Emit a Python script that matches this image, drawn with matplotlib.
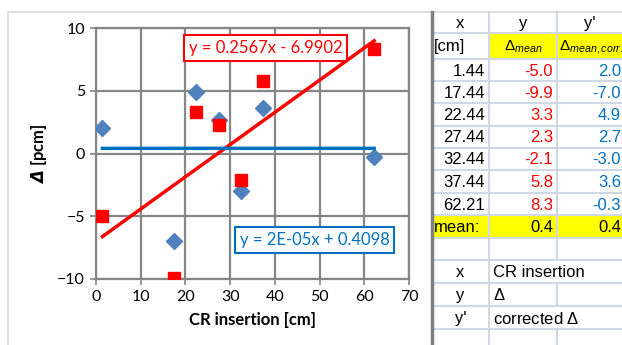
import numpy as np
import matplotlib.pyplot as plt
from matplotlib.lines import Line2D
from matplotlib.patches import Rectangle

x_cm = [1.44, 17.44, 22.44, 27.44, 32.44, 37.44, 62.21]
d_mean = [-5.0, -9.9, 3.3, 2.3, -2.1, 5.8, 8.3]
d_corr = [2.0, -7.0, 4.9, 2.7, -3.0, 3.6, -0.3]
mean_vals = [0.4, 0.4]

# lineas de tendencia (Excel)
fit_red = (0.2567, -6.9902)
fit_blue = (2e-05, 0.4098)
lbl_red = "y = 0.2567x - 6.9902"
lbl_blue = "y = 2E-05x + 0.4098"

xticks = [0, 10, 20, 30, 40, 50, 60, 70]
yticks = [-10, -5, 0, 5, 10]

RED = '#FF0000'
BLUE_PT = '#4F81BD'
BLUE_LN = '#0070C0'
GRID = '#868686'
CELL = '#D0D7E5'

plt.rcParams['mathtext.fontset'] = 'custom'
plt.rcParams['mathtext.rm'] = 'Liberation Sans'
plt.rcParams['mathtext.it'] = 'Liberation Sans:italic'
plt.rcParams['mathtext.bf'] = 'DejaVu Sans:italic:bold'

W, H = 622, 345
fig = plt.figure(figsize=(W / 100, H / 100), dpi=100)
fig.patch.set_facecolor('white')

# capa en pixeles para la tabla y el marco
lay = fig.add_axes([0, 0, 1, 1])
lay.set_xlim(0, W)
lay.set_ylim(H, 0)
lay.axis('off')

def hl(y, x0, x1, c=CELL, lw=1.5):
    lay.add_line(Line2D([x0, x1], [y, y], color=c, lw=lw))

def vl(x, y0, y1, c=CELL, lw=1.5):
    lay.add_line(Line2D([x, x], [y0, y1], color=c, lw=lw))

# marco del grafico
hl(12, 8, W, c='#D9D9D9', lw=1.2)
vl(8, 12, H, c='#D9D9D9', lw=1.2)

# tabla
c0, c1, c2, c3 = 432, 489, 557, 640
rows = [12, 33, 59, 81, 103, 126, 148, 170, 193, 215, 238, 260, 283, 306, 329, 352]
lay.add_patch(Rectangle((c1, rows[1]), c3 - c1, rows[2] - rows[1], color='#FFFF00', lw=0))
lay.add_patch(Rectangle((c0, rows[9]), c3 - c0, rows[10] - rows[9], color='#FFFF00', lw=0))
for y in rows[1:]:
    hl(y, c0, W)
vl(c1, 12, H)
for i in range(len(rows) - 1):
    if i in (11, 13):
        continue
    vl(c2, rows[i], rows[i + 1])
vl(c0, 12, H, c='#7F7F7F', lw=2.5)

fs = 12
tf = dict(fontsize=fs, family='Liberation Sans', va='center')
def mid(i):
    return (rows[i] + rows[i + 1]) / 2 + 1

lay.text((c0 + c1) / 2, mid(0), 'x', ha='center', **tf)
lay.text((c1 + c2) / 2, mid(0), 'y', ha='center', **tf)
lay.text(590, mid(0), "y'", ha='center', **tf)
lay.text(434, mid(1), '[cm]', ha='left', **tf)
lay.text((c1 + c2) / 2, mid(1), r'$\mathit{Δ_{mean}}$', ha='center', fontsize=11, va='center')
lay.text(559, mid(1), r'$\mathit{Δ_{mean,corr.}}$', ha='left', fontsize=11, va='center')
for k in range(len(x_cm)):
    lay.text(c1 - 4, mid(k + 2), f'{x_cm[k]:.2f}', ha='right', **tf)
    lay.text(c2 - 4, mid(k + 2), f'{d_mean[k]:.1f}', ha='right', color=RED, **tf)
    lay.text(621, mid(k + 2), f'{d_corr[k]:.1f}', ha='right', color=BLUE_LN, **tf)
lay.text(434, mid(9), 'mean:', ha='left', **tf)
lay.text(c2 - 4, mid(9), f'{mean_vals[0]:.1f}', ha='right', **tf)
lay.text(621, mid(9), f'{mean_vals[1]:.1f}', ha='right', **tf)
lay.text((c0 + c1) / 2, mid(11), 'x', ha='center', **tf)
lay.text(c1 + 4, mid(11), 'CR insertion', ha='left', **tf)
lay.text((c0 + c1) / 2, mid(12), 'y', ha='center', **tf)
lay.text(c1 + 4, mid(12), r'$\mathit{Δ}$', ha='left', fontsize=fs, va='center')
lay.text((c0 + c1) / 2, mid(13), "y'", ha='center', **tf)
lay.text(c1 + 4, mid(13), r'corrected $\mathit{Δ}$', ha='left', **tf)

# grafico
ax = fig.add_axes([96 / W, 1 - 279 / H, 313 / W, 251 / H])
ax.set_xlim(0, 70)
ax.set_ylim(-10, 10)
ax.set_xticks(xticks)
ax.set_yticks(yticks)
ax.grid(True, color=GRID, lw=1.6)
ax.set_axisbelow(True)
for s in ax.spines.values():
    s.set_color(GRID)
    s.set_linewidth(1.6)
ax.tick_params(direction='out', length=4, width=1.2, color=GRID, labelsize=11.5, pad=4)
for t in ax.get_xticklabels() + ax.get_yticklabels():
    t.set_family('Lato')

ax.plot(x_cm, d_corr, 'D', color=BLUE_PT, ms=8.5, mec=BLUE_PT, zorder=3)
ax.plot(x_cm, d_mean, 's', color=RED, ms=8, mec=RED, zorder=3)

xf = np.array([x_cm[0], x_cm[-1]])
ax.plot(xf, fit_red[0] * xf + fit_red[1], color=RED, lw=2.5, zorder=4)
ax.plot(xf, fit_blue[0] * xf + fit_blue[1], color=BLUE_LN, lw=2.5, zorder=4)

ax.text(0.5415, 0.922, lbl_red, transform=ax.transAxes, ha='center', va='center',
        color=RED, fontsize=12, family='Lato', zorder=5,
        bbox=dict(boxstyle='square,pad=0.3', fc='white', ec=RED, lw=1.5))
ax.text(0.698, 0.155, lbl_blue, transform=ax.transAxes, ha='center', va='center',
        color=BLUE_LN, fontsize=12, family='Lato', zorder=5,
        bbox=dict(boxstyle='square,pad=0.3', fc='white', ec=BLUE_LN, lw=1.5))

ax.set_xlabel('CR insertion [cm]', fontsize=12, fontweight='bold', family='Lato', labelpad=6)
ax.set_ylabel(r'$\mathbf{Δ}$ [pcm]', fontsize=12, fontweight='bold', family='Lato', labelpad=6)

fig.savefig('out.png', dpi=100)
